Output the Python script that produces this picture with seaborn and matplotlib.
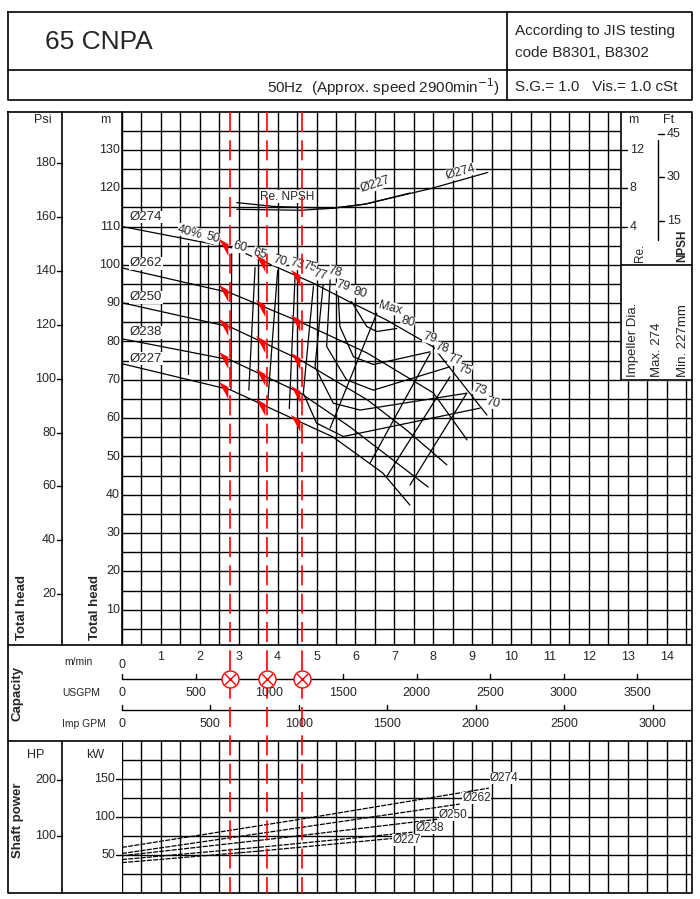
import numpy as np
import matplotlib
matplotlib.use("Agg")
import matplotlib.pyplot as plt
import seaborn as sns

sns.set_style("white")
plt.rcParams['font.family'] = ['Liberation Sans', 'DejaVu Sans']

# ---- data (capacity m3/min, head m) ----
dia_labels = ["Ø274", "Ø262", "Ø250", "Ø238", "Ø227"]
head_q = [
    [0, 2.85, 4.9, 5.86, 6.8, 8.0, 9.38],
    [0, 2.78, 4.58, 6.3, 8.0, 8.87],
    [0, 2.78, 4.58, 6.3, 7.3, 8.35],
    [0, 2.78, 4.58, 5.86, 7.87],
    [0, 2.78, 4.58, 5.42, 6.7, 7.4],
]
head_h = [
    [110, 104.4, 95.3, 90.3, 85.6, 78.6, 60.8],
    [99.2, 92.7, 85.1, 77, 66.6, 54.3],
    [90.1, 83.8, 75.2, 64.8, 57.0, 47.8],
    [80.7, 75.2, 66.6, 57.7, 42.0],
    [74.2, 67.4, 59.0, 55.1, 45.7, 37.3],
]
dia_label_h = [112.5, 100.4, 91.5, 82.4, 75.5]

# efficiency contours (x, head)
eff_lines = {
    "40": ([1.70, 1.70], [105.6, 71.5]),
    "50": ([2.22, 2.22], [105.1, 69.9]),
    "60": ([2.82, 2.80], [102.9, 67.3]),
    "65": ([3.42, 3.26], [99.3, 67.3]),
    "70": ([4.00, 3.75], [98.5, 64.7]),
    "73": ([4.45, 4.30], [97.5, 62.5]),
    "75": ([4.92, 4.66, 5.0, 5.69, 9.2], [94.4, 66.5, 58.7, 55.2, 62.6]),
    "77": ([5.17, 4.96, 5.43, 6.12, 8.86], [94.8, 73.4, 63.9, 62.1, 66.5]),
    "78": ([5.35, 5.26, 5.77, 6.46, 8.43], [96.1, 78.7, 70.0, 67.3, 73.4]),
    "79": ([5.56, 5.60, 5.95, 6.46, 7.92], [91.7, 83.9, 76.0, 74.0, 77.3]),
    "80": ([5.9, 6.29, 6.55, 7.06], [90.4, 83.9, 82.6, 83.4]),
    "max": ([6.55, 5.35], [87.4, 57.4]),
    "d1": ([7.92, 6.37], [76.9, 48.2]),
    "d2": ([8.43, 6.8], [70.8, 44.7]),
    "d3": ([8.86, 7.4], [66.5, 42.5]),
}
eff_text = ["40%", "50", "60", "65", "70", "73", "75", "77", "78", "79", "80", "Max",
            "80", "79", "78", "77", "75", "73", "70"]
eff_text_q = [1.75, 2.34, 3.03, 3.55, 4.06, 4.5, 4.83, 5.09, 5.48, 5.68, 6.12, 6.89,
              7.35, 7.92, 8.23, 8.56, 8.82, 9.2, 9.54]
eff_text_h = [108.6, 107, 104.7, 102.9, 101, 100.3, 99.5, 97.4, 98.2, 94.5, 92.7, 88.8,
              85.1, 81, 78.3, 75.2, 72.6, 67.4, 64]

# required NPSH (m)
npsh_q = [[2.95, 3.9, 5.4, 6.26, 7.4], [2.95, 4.58, 5.4, 6.26, 7.97, 9.4]]
npsh_m = [[6.5, 6.1, 5.9, 6.35, 7.5], [5.8, 5.7, 5.9, 6.35, 8.0, 9.65]]

# shaft power kW
pow_q = [[0, 4.7, 9.43], [0, 4.3, 8.68], [0, 4.0, 8.1], [0, 3.7, 7.47], [0, 3.5, 7.0]]
pow_kw = [[60, 98, 138], [52, 84, 117], [49, 72, 97], [44, 61, 80], [40, 55, 72]]
pow_label_q = [9.45, 8.75, 8.15, 7.55, 6.95]
pow_label_kw = [151, 125, 103, 86, 70]

duty_q = [2.78, 3.73, 4.63]

# ---- layout ----
fig = plt.figure(figsize=(7, 8.99), dpi=100)
XL = 14.65
ax = fig.add_axes([122 / 700, (899 - 645) / 899, 570 / 700, 533 / 899])
ax.set_xlim(0, XL)
ax.set_ylim(0.78, 139.9)
ax.axis("off")
for q in np.arange(0, 14.6, 0.5):
    ax.axvline(q, color="black", lw=1.0)
for h in range(5, 140, 5):
    ax.axhline(h, color="black", lw=1.0)

for i in range(5):
    ax.plot(head_q[i], head_h[i], color="black", lw=0.9)
    ax.text(0.2, dia_label_h[i], dia_labels[i], fontsize=9.5, va="center",
            bbox=dict(fc="white", ec="none", pad=0.3))
for k, (xs, ys) in eff_lines.items():
    ax.plot(xs, ys, color="black", lw=0.9)
for t, q, h in zip(eff_text, eff_text_q, eff_text_h):
    ax.text(q, h, t, fontsize=9, ha="center", va="center", rotation=-15,
            bbox=dict(fc="white", ec="none", pad=0.1))

for xs, ns in zip(npsh_q, npsh_m):
    ax.plot(xs, np.array(ns) * 2.5 + 100, color="black", lw=0.9)
ax.text(4.24, 117.8, "Re. NPSH", fontsize=8.5, ha="center", va="center",
        bbox=dict(fc="white", ec="none", pad=0.2))
ax.text(6.5, 120.9, "Ø227", fontsize=9, ha="center", va="center", rotation=18,
        bbox=dict(fc="white", ec="none", pad=0.1))
ax.text(8.7, 124.2, "Ø274", fontsize=9, ha="center", va="center", rotation=15,
        bbox=dict(fc="white", ec="none", pad=0.1))

# red flags on curves
flag = [(-1, 1), (0.1, 0.4), (0.1, -1)]
for i in range(5):
    hs = np.interp(duty_q, head_q[i], head_h[i])
    ax.scatter(np.array(duty_q) - 0.09, hs, marker=flag, s=150, color="red", zorder=6,
               linewidths=0)

# power panel
axp = fig.add_axes([122 / 700, 6 / 899, 570 / 700, 152 / 899])
axp.set_xlim(0, XL)
axp.set_ylim(0, 200)
axp.axis("off")
for q in np.arange(0, 14.6, 0.5):
    axp.axvline(q, color="black", lw=1.0)
for k in range(25, 200, 25):
    axp.axhline(k, color="black", lw=1.0)
for i in range(5):
    axp.plot(pow_q[i], pow_kw[i], color="black", lw=0.9, ls=(0, (4, 1)))
    axp.text(pow_label_q[i], pow_label_kw[i], dia_labels[i], fontsize=8.5,
             va="center", bbox=dict(fc="white", ec="none", pad=0.1))

# overlay in pixel coordinates
ov = fig.add_axes([0, 0, 1, 1], zorder=5)
ov.set_xlim(0, 700)
ov.set_ylim(899, 0)
ov.axis("off")
ov.patch.set_alpha(0)
lk = dict(color="black", lw=1.2)
# header
ov.plot([8, 692, 692, 8, 8], [12, 12, 100, 100, 12], **lk)
ov.plot([8, 692], [70, 70], **lk)
ov.plot([507, 507], [12, 100], **lk)
ov.text(45, 42, "65 CNPA", fontsize=19, va="center")
ov.text(515, 31, "According to JIS testing", fontsize=11, va="center")
ov.text(515, 53, "code B8301, B8302", fontsize=11, va="center")
ov.text(500, 87, r"50Hz  (Approx. speed 2900min$^{-1}$)", fontsize=11, va="center", ha="right")
ov.text(515, 87, "S.G.= 1.0   Vis.= 1.0 cSt", fontsize=11, va="center")
# main frame
ov.plot([8, 692, 692, 8, 8], [112, 112, 893, 893, 112], **lk)
ov.plot([8, 692], [645, 645], **lk)
ov.plot([8, 692], [741, 741], **lk)
ov.plot([62, 62], [112, 645], **lk)
ov.plot([62, 62], [741, 893], **lk)
ov.plot([122, 122], [112, 645], **lk)
# right box
ov.fill_between([621, 692], 112, 380, color="white", zorder=1)
ov.plot([621, 621, 692], [112, 380, 380], **lk)
ov.plot([621, 692], [265, 265], **lk)
ov.plot([658, 658], [140, 240], color="black", lw=1)
ov.text(628, 120, "m", fontsize=9, va="center")
ov.text(663, 120, "Ft", fontsize=9, va="center")
for nm in [4, 8, 12]:
    y = 648 - (100 + nm * 2.5) * 3.83
    ov.plot([621, 627], [y, y], color="black", lw=1)
    ov.text(630, y, str(nm), fontsize=9, va="center")
for ft in [15, 30, 45]:
    y = 648 - (100 + ft * 0.3048 * 2.5) * 3.83
    ov.plot([658, 664], [y, y], color="black", lw=1)
    ov.text(667, y, str(ft), fontsize=9, va="center")
ov.text(640, 262, "Re.", fontsize=8.5, rotation=90, va="bottom", ha="center")
ov.text(682, 262, "NPSH", fontsize=8.5, rotation=90, va="bottom", ha="center", weight="bold")
ov.text(633, 377, "Impeller Dia.", fontsize=9.5, rotation=90, va="bottom", ha="center")
ov.text(657, 377, "Max. 274", fontsize=9.5, rotation=90, va="bottom", ha="center")
ov.text(683, 377, "Min. 227mm", fontsize=9.5, rotation=90, va="bottom", ha="center")
# left axes labels
ov.text(52, 120, "Psi", fontsize=9, ha="right", va="center")
ov.text(105, 120, "m", fontsize=9, ha="center", va="center")
for p in range(20, 200, 20):
    y = 648 - p / 1.4223 * 3.83
    ov.plot([57, 62], [y, y], color="black", lw=1)
    ov.text(56, y, str(p), fontsize=9, ha="right", va="center")
for h in range(10, 140, 10):
    y = 648 - h * 3.83
    ov.text(120, y, str(h), fontsize=9, ha="right", va="center")
ov.text(22, 640, "Total head", fontsize=9.5, rotation=90, va="bottom", ha="center", weight="bold")
ov.text(95, 640, "Total head", fontsize=9.5, rotation=90, va="bottom", ha="center", weight="bold")

# capacity scales
def qx(q):
    return 122 + q * 570 / XL

ov.text(18, 693, "Capacity", fontsize=9.5, rotation=90, va="center", ha="center", weight="bold")
ov.text(64, 662, "m/min", fontsize=7.5, va="center")
ov.text(62, 693, "USGPM", fontsize=7.5, va="center")
ov.text(62, 724, "Imp GPM", fontsize=7.5, va="center")
ov.text(qx(0), 665, "0", fontsize=9, ha="center", va="center")
for q in range(1, 15):
    ov.text(qx(q), 657, str(q), fontsize=9, ha="center", va="center")
ov.plot([qx(0), 692], [679, 679], color="black", lw=1)
ov.plot([qx(0), 692], [710, 710], color="black", lw=1)
for g in range(0, 3801, 500):
    ov.plot([qx(g / 264.17)] * 2, [674, 679], color="black", lw=1)
    ov.text(qx(g / 264.17), 693, str(g), fontsize=9, ha="center", va="center")
for g in range(0, 3201, 500):
    ov.plot([qx(g / 219.97)] * 2, [705, 710], color="black", lw=1)
    ov.text(qx(g / 219.97), 724, str(g), fontsize=9, ha="center", va="center")

# power labels
ov.text(18, 820, "Shaft power", fontsize=9.5, rotation=90, va="center", ha="center", weight="bold")
ov.text(36, 755, "HP", fontsize=9, ha="center", va="center")
ov.text(95, 755, "kW", fontsize=9, ha="center", va="center")
for hp in [100, 200]:
    y = 893 - hp * 0.7457 * 0.76
    ov.plot([57, 62], [y, y], color="black", lw=1)
    ov.text(56, y, str(hp), fontsize=9, ha="right", va="center")
for kw in [50, 100, 150]:
    y = 893 - kw * 0.76
    ov.plot([116, 122], [y, y], color="black", lw=1)
    ov.text(115, y, str(kw), fontsize=9, ha="right", va="center")

# duty lines
for q in duty_q:
    ov.plot([qx(q)] * 2, [112, 893], color="red", lw=1.2, ls=(0, (12, 5)))
    ov.scatter([qx(q)], [679], s=150, facecolors="white", edgecolors="red", lw=1, zorder=7)
    ov.scatter([qx(q)], [679], s=60, marker="x", color="red", lw=1, zorder=8)

fig.savefig("out.png", dpi=100)
